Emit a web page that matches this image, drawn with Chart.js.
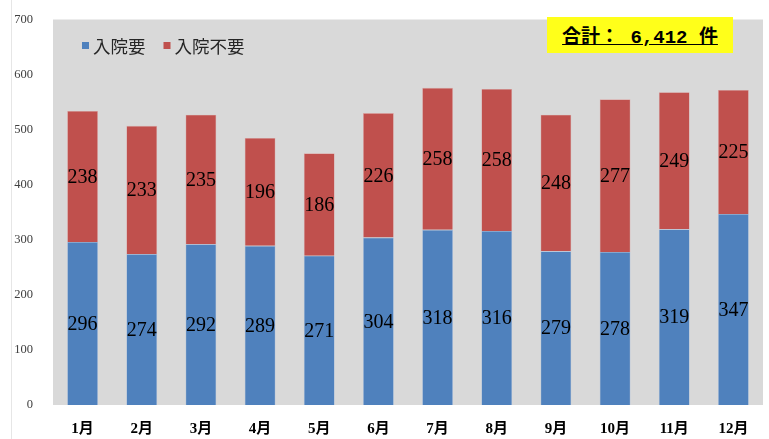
<!DOCTYPE html>
<html><head><meta charset="utf-8">
<script src="https://cdn.jsdelivr.net/npm/chart.js@4/dist/chart.umd.min.js"></script>
<style>html,body{margin:0;padding:0;background:#fff;}#wrap{position:relative;width:769px;height:439px;}
#total{position:absolute;left:547px;top:17px;width:186px;height:36px;background:#FFFF1A;display:flex;align-items:center;justify-content:center;font:bold 19px "Liberation Mono","Noto Sans CJK JP",monospace;text-decoration:underline;color:#000;white-space:pre;}
</style></head><body>
<div id="wrap"><canvas id="c" width="769" height="439"></canvas><div id="total">合計： 6,412 件</div></div>
<script>
const categories=["1月","2月","3月","4月","5月","6月","7月","8月","9月","10月","11月","12月"];
const admitNeeded=[296,274,292,289,271,304,318,316,279,278,319,347];
const admitNotNeeded=[238,233,235,196,186,226,258,258,248,277,249,225];
const seriesNames=["入院要","入院不要"];
const yTicks=[0,100,200,300,400,500,600,700];

const bgPlugin={id:'bg',beforeDraw(ch){const a=ch.chartArea,c=ch.ctx;c.save();c.fillStyle='#D9D9D9';c.fillRect(a.left,a.top,a.right-a.left,a.bottom-a.top);
c.strokeStyle='#E6E6E6';c.lineWidth=1;c.beginPath();c.moveTo(11.5,0);c.lineTo(11.5,439);c.stroke();c.restore();}};
const labelPlugin={id:'lbl',afterDatasetsDraw(ch){const c=ch.ctx;c.save();c.font='20px "Liberation Serif",serif';c.fillStyle='#000';c.textAlign='center';c.textBaseline='middle';
ch.data.datasets.forEach((ds,i)=>{ch.getDatasetMeta(i).data.forEach((el,j)=>{const top=el.y,bot=el.base;c.fillText(String(ds.data[j]),el.x,(top+bot)/2+1);});});
// legend
c.font='17.5px "Noto Sans CJK JP",sans-serif';c.textAlign='left';
let x=82;const y=46;
ch.data.datasets.forEach((ds,i)=>{c.fillStyle=ds.backgroundColor;c.fillRect(x,y-4,7,7);c.fillStyle='#262626';c.fillText(ds.label,x+11,y);x+=11+c.measureText(ds.label).width+18;});
c.restore();}};

new Chart(document.getElementById('c'),{type:'bar',
data:{labels:categories,datasets:[
{label:seriesNames[0],data:admitNeeded,backgroundColor:'#4F81BD',borderColor:'#A7BEDC',borderWidth:0.6,barPercentage:0.52,categoryPercentage:1},
{label:seriesNames[1],data:admitNotNeeded,backgroundColor:'#C0504D',borderColor:'#DDA6A5',borderWidth:0.6,barPercentage:0.52,categoryPercentage:1}]},
options:{responsive:false,animation:false,devicePixelRatio:1,
layout:{padding:{top:16,right:6,left:0,bottom:0}},
plugins:{legend:{display:false},tooltip:{enabled:false}},
scales:{
x:{stacked:true,grid:{display:false},border:{display:false},ticks:{color:'#000',font:{family:'"Liberation Serif","Noto Sans CJK JP",serif',size:15,weight:'bold'},padding:7},afterFit(s){s.height=34;}},
y:{stacked:true,min:0,max:700,grid:{display:false},border:{display:false},afterBuildTicks(s){s.ticks=yTicks.map(v=>({value:v}));},
ticks:{color:'#404040',font:{family:'"Liberation Serif",serif',size:12.5},padding:12},afterFit(s){s.width=53;}}}},
plugins:[bgPlugin,labelPlugin]});
</script></body></html>
